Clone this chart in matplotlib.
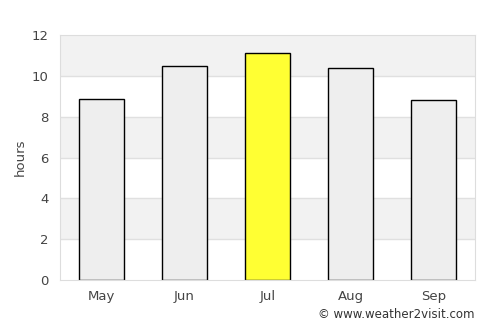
import matplotlib
matplotlib.use("Agg")
import matplotlib.pyplot as plt

months = ["May", "Jun", "Jul", "Aug", "Sep"]
hours = [8.85, 10.47, 11.1, 10.37, 8.8]
highlight = "Jul"
yticks = [0, 2, 4, 6, 8, 10, 12]

fig = plt.figure(figsize=(5, 3.25), dpi=100)
ax = fig.add_axes([60/500, 1-280/325, 415/500, 245/325])

# alternating background bands
for lo in range(0, 12, 2):
    if (lo // 2) % 2 == 1:
        ax.axhspan(lo, lo + 2, color="#f2f2f2", zorder=0, lw=0)
for y in yticks[1:-1]:
    ax.axhline(y, color="#e0e0e0", lw=1, zorder=1)

colors = ["#ffff33" if m == highlight else "#eeeeee" for m in months]
ax.bar(range(len(months)), hours, width=0.54, color=colors,
       edgecolor="black", linewidth=1, zorder=2)

ax.set_xlim(-0.5, len(months) - 0.5)
ax.set_ylim(0, 12)
ax.set_yticks(yticks)
ax.set_xticks(range(len(months)))
ax.set_xticklabels(months)
ax.tick_params(length=0, labelsize=9.5, colors="#444444", pad=7)
ax.tick_params(axis="y", pad=8)
for s in ax.spines.values():
    s.set_color("#dddddd")
ax.set_ylabel("hours", fontsize=9.5, color="#444444", labelpad=4)

fig.text(474/500, 1-314/325, "© www.weather2visit.com", ha="right", va="center",
         fontsize=8.5, color="#333333")

fig.savefig("out.png", dpi=100)
